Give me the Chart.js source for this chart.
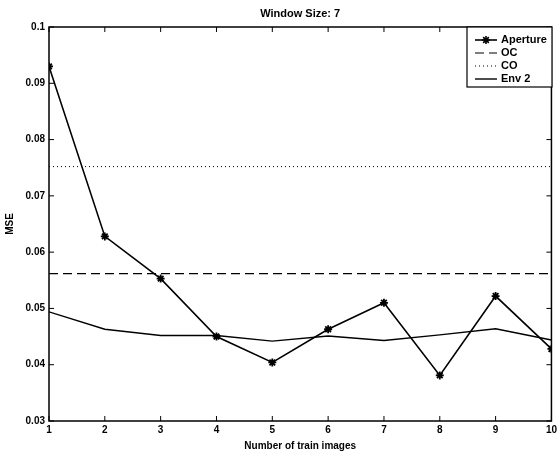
<!DOCTYPE html>
<html>
<head>
<meta charset="utf-8">
<script src="https://cdn.jsdelivr.net/npm/chart.js@4.4.1/dist/chart.umd.min.js"></script>
<style>
  body { margin: 0; background: #fff; }
  #wrap { width: 560px; height: 452px; }
</style>
</head>
<body>
<div id="wrap"><canvas id="chart1" width="560" height="452"></canvas></div>
<script>
// data
const trainImages = [1, 2, 3, 4, 5, 6, 7, 8, 9, 10];
const aperture = [0.0930, 0.0628, 0.0553, 0.0450, 0.0404, 0.0463, 0.0510, 0.0381, 0.0522, 0.0428];
const env2 = [0.0494, 0.0463, 0.0452, 0.0452, 0.0442, 0.0451, 0.0443, 0.0453, 0.0464, 0.0444];
const ocLevel = 0.0562;
const coLevel = 0.0752;
const yTickLabels = ['0.03', '0.04', '0.05', '0.06', '0.07', '0.08', '0.09', '0.1'];

const FONT = "'Liberation Sans', Arial, Helvetica, sans-serif";

const pts = arr => arr.map((v, i) => ({ x: trainImages[i], y: v }));
const flat = v => [{ x: trainImages[0], y: v }, { x: trainImages[trainImages.length - 1], y: v }];

// box + inward tick marks like matlab, plus legend inside the plot
const frame = {
    id: 'frame',
    afterDraw(chart) {
        const ctx = chart.ctx;
        const a = chart.chartArea;
        const xs = chart.scales.x, ys = chart.scales.y;
        ctx.save();
        ctx.strokeStyle = '#000';
        ctx.lineWidth = 1.5;
        ctx.strokeRect(a.left, a.top, a.right - a.left, a.bottom - a.top);
        ctx.lineWidth = 1;
        ctx.beginPath();
        xs.ticks.forEach(t => {
            const px = xs.getPixelForValue(t.value);
            ctx.moveTo(px, a.bottom); ctx.lineTo(px, a.bottom - 5);
            ctx.moveTo(px, a.top); ctx.lineTo(px, a.top + 5);
        });
        ys.ticks.forEach(t => {
            const py = ys.getPixelForValue(t.value);
            ctx.moveTo(a.left, py); ctx.lineTo(a.left + 5, py);
            ctx.moveTo(a.right, py); ctx.lineTo(a.right - 5, py);
        });
        ctx.stroke();

        // legend
        const lx = 467, ly = a.top, lw = 85, lh = 60;
        ctx.fillStyle = '#fff';
        ctx.fillRect(lx, ly, lw, lh);
        ctx.lineWidth = 1.2;
        ctx.strokeRect(lx, ly, lw, lh);
        ctx.font = 'bold 11px ' + FONT;
        ctx.textBaseline = 'middle';
        chart.data.datasets.forEach((ds, i) => {
            const y = ly + 13 + i * 13;
            ctx.beginPath();
            ctx.setLineDash(ds.borderDash || []);
            ctx.lineWidth = ds.borderWidth;
            ctx.strokeStyle = '#000';
            ctx.moveTo(475, y); ctx.lineTo(497, y);
            ctx.stroke();
            ctx.setLineDash([]);
            if (ds.pointRadius > 0) {
                Chart.helpers.drawPoint(ctx, { pointStyle: ds.pointStyle, radius: ds.pointRadius, rotation: 0, borderWidth: 1.5 }, 486, y);
            }
            ctx.fillStyle = '#000';
            ctx.fillText(ds.label, 501, y);
        });
        ctx.restore();
    }
};

const ctx = document.getElementById('chart1');
const chart1 = new Chart(ctx, {
    type: 'line',
    data: {
        datasets: [{
            label: 'Aperture',
            data: pts(aperture),
            borderColor: '#000',
            backgroundColor: '#000',
            borderWidth: 1.6,
            pointStyle: 'star',
            pointRadius: 4,
            pointBorderWidth: 1.8,
            pointBorderColor: '#000'
        }, {
            label: 'OC',
            data: flat(ocLevel),
            borderColor: '#000',
            borderWidth: 1.2,
            borderDash: [9, 5],
            pointRadius: 0
        }, {
            label: 'CO',
            data: flat(coLevel),
            borderColor: '#000',
            borderWidth: 1,
            borderDash: [1, 3],
            pointRadius: 0
        }, {
            label: 'Env 2',
            data: pts(env2),
            borderColor: '#000',
            borderWidth: 1.4,
            pointRadius: 0
        }]
    },
    options: {
        responsive: false,
        animation: false,
        layout: { padding: { left: 0, right: 5, top: 0, bottom: 0 } },
        plugins: {
            legend: { display: false },
            tooltip: { enabled: false },
            title: {
                display: true,
                text: 'Window Size: 7',
                color: '#000',
                fullSize: false,
                font: { family: FONT, size: 11, weight: 'bold', lineHeight: 1.2 },
                padding: { top: 7, bottom: 6.8 }
            }
        },
        scales: {
            x: {
                type: 'linear',
                min: 1,
                max: 10,
                grid: { display: false, drawTicks: false },
                border: { display: false },
                ticks: {
                    stepSize: 1,
                    color: '#000',
                    padding: 3,
                    maxRotation: 0,
                    font: { family: FONT, size: 10, weight: 'bold' }
                },
                title: {
                    display: true,
                    text: 'Number of train images',
                    color: '#000',
                    padding: { top: 0, bottom: 0 },
                    font: { family: FONT, size: 10, weight: 'bold' }
                },
                afterFit(s) { s.height = 31; }
            },
            y: {
                min: 0.03,
                max: 0.1,
                grid: { display: false, drawTicks: false },
                border: { display: false },
                ticks: {
                    stepSize: 0.01,
                    color: '#000',
                    padding: 4,
                    font: { family: FONT, size: 10, weight: 'bold' },
                    callback: (v, i) => yTickLabels[i]
                },
                title: {
                    display: true,
                    text: 'MSE',
                    color: '#000',
                    padding: { top: 4, bottom: 0 },
                    font: { family: FONT, size: 10, weight: 'bold' }
                },
                afterFit(s) { s.width = 49; }
            }
        }
    },
    plugins: [frame]
});
</script>
</body>
</html>
